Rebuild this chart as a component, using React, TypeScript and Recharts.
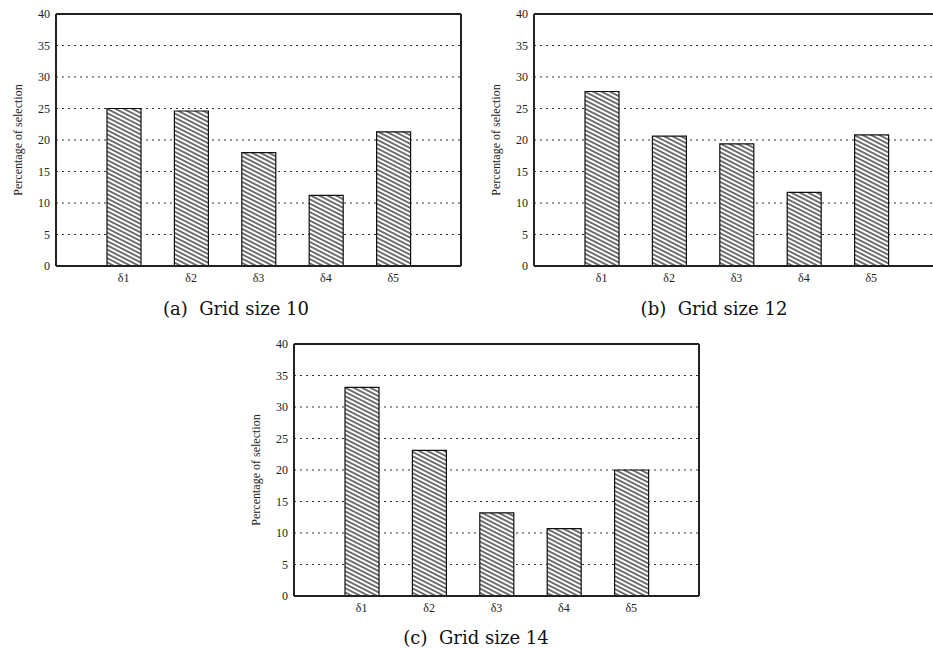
import React from 'react';
import { BarChart, Bar, XAxis, YAxis, CartesianGrid } from 'recharts';

const categories = ['δ1', 'δ2', 'δ3', 'δ4', 'δ5'];
const grid10Values = [25.0, 24.6, 18.0, 11.2, 21.3];
const grid12Values = [27.7, 20.6, 19.4, 11.7, 20.8];
const grid14Values = [33.1, 23.1, 13.2, 10.7, 20.0];
const yTicks = [0, 5, 10, 15, 20, 25, 30, 35, 40];
const yLabel = 'Percentage of selection';
const captions = ['(a)\u00a0\u00a0Grid size 10', '(b)\u00a0\u00a0Grid size 12', '(c)\u00a0\u00a0Grid size 14'];

const AXIS = '#222';
const TICK_FONT = { fontFamily: '"Liberation Serif", serif', fontSize: 12, fill: '#222' };

type PanelProps = {
  values: number[];
  L: number;
  T: number;
  caption: string;
  capX: number;
  capY: number;
};

const Panel = ({ values, L, T, caption, capX, capY }: PanelProps) => {
  const data = categories.map((name, i) => ({ name, v: values[i] }));
  const plotH = 252;
  return (
    <>
      <div style={{ position: 'absolute', left: L - 50, top: T - 10 }}>
        <BarChart
          width={465}
          height={292}
          data={data}
          margin={{ top: 10, right: 10, bottom: 0, left: 0 }}
          barSize={34}
        >
          <CartesianGrid vertical={false} stroke="#333" strokeDasharray="2 4" xAxisId="bottom" yAxisId="main" />
          <XAxis
            dataKey="name"
            xAxisId="bottom"
            height={30}
            padding={{ left: 34, right: 34 }}
            tickLine={false}
            tickSize={0}
            tickMargin={7}
            axisLine={{ stroke: AXIS, strokeWidth: 2 }}
            tick={TICK_FONT}
            interval={0}
          />
          <XAxis
            dataKey="name"
            xAxisId="top"
            orientation="top"
            mirror
            height={1}
            padding={{ left: 34, right: 34 }}
            tickSize={4}
            tickLine={{ stroke: AXIS, strokeWidth: 1 }}
            axisLine={{ stroke: AXIS, strokeWidth: 2 }}
            tick={false}
            interval={0}
          />
          <YAxis
            yAxisId="main"
            type="number"
            domain={[0, 40]}
            ticks={yTicks}
            width={50}
            tickLine={false}
            tickSize={0}
            tickMargin={6}
            axisLine={{ stroke: AXIS, strokeWidth: 2 }}
            tick={TICK_FONT}
            interval={0}
          />
          <YAxis
            yAxisId="leftMirror"
            type="number"
            domain={[0, 40]}
            allowDataOverflow
            ticks={yTicks}
            mirror
            width={1}
            tickSize={4}
            tickLine={{ stroke: AXIS, strokeWidth: 1 }}
            axisLine={false}
            tick={false}
            interval={0}
          />
          <YAxis
            yAxisId="right"
            orientation="right"
            type="number"
            domain={[0, 40]}
            allowDataOverflow
            ticks={yTicks}
            mirror
            width={1}
            tickSize={4}
            tickLine={{ stroke: AXIS, strokeWidth: 1 }}
            axisLine={{ stroke: AXIS, strokeWidth: 2 }}
            tick={false}
            interval={0}
          />
          <Bar
            dataKey="v"
            xAxisId="bottom"
            yAxisId="main"
            fill="url(#hatchPattern)"
            stroke="#111"
            strokeWidth={1.2}
            isAnimationActive={false}
          />
        </BarChart>
      </div>
      <div
        style={{
          position: 'absolute',
          left: L - 38,
          top: T + plotH / 2,
          transform: 'translate(-50%, -50%) rotate(-90deg)',
          whiteSpace: 'nowrap',
          fontFamily: '"Liberation Serif", serif',
          fontSize: 12,
          color: '#222',
          lineHeight: 1,
        }}
      >
        {yLabel}
      </div>
      <div
        style={{
          position: 'absolute',
          left: capX,
          top: capY,
          transform: 'translate(-50%, -50%)',
          whiteSpace: 'nowrap',
          fontFamily: '"DejaVu Serif", serif',
          fontSize: 18,
          color: '#111',
          lineHeight: 1,
        }}
      >
        {caption}
      </div>
    </>
  );
};

export default function App() {
  return (
    <div
      style={{
        position: 'absolute',
        left: 0,
        top: 0,
        width: 933,
        height: 649,
        overflow: 'hidden',
        background: '#fff',
      }}
    >
      <svg width={0} height={0} style={{ position: 'absolute' }}>
        <defs>
          <pattern
            id="hatchPattern"
            patternUnits="userSpaceOnUse"
            width={8}
            height={3.8}
            patternTransform="rotate(27)"
          >
            <rect width={8} height={3.8} fill="#fff" />
            <line x1={0} y1={1.9} x2={8} y2={1.9} stroke="#000" strokeWidth={1.1} />
          </pattern>
        </defs>
      </svg>
      <Panel values={grid10Values} L={56} T={14} caption={captions[0]} capX={236} capY={309} />
      <Panel values={grid12Values} L={534} T={14} caption={captions[1]} capX={714} capY={309} />
      <Panel values={grid14Values} L={294} T={344} caption={captions[2]} capX={476} capY={638} />
    </div>
  );
}
